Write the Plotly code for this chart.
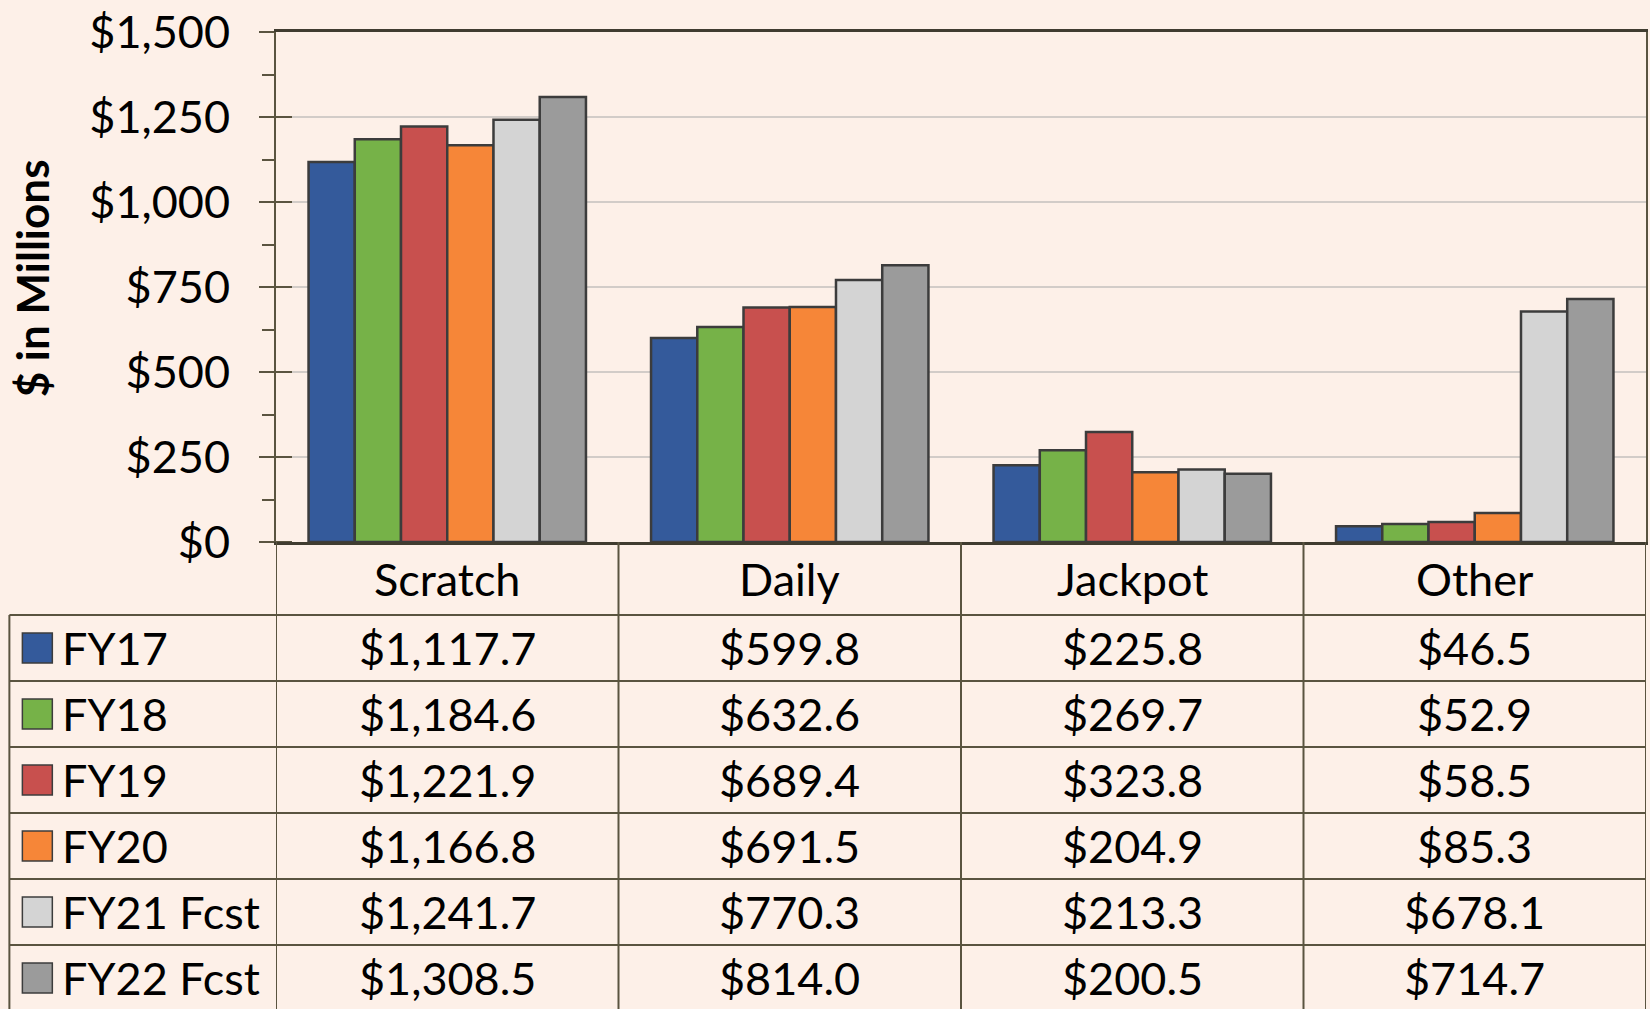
import plotly.graph_objects as go

categories = ["Scratch", "Daily", "Jackpot", "Other"]
series_names = ["FY17", "FY18", "FY19", "FY20", "FY21 Fcst", "FY22 Fcst"]
fy17 = [1117.7, 599.8, 225.8, 46.5]
fy18 = [1184.6, 632.6, 269.7, 52.9]
fy19 = [1221.9, 689.4, 323.8, 58.5]
fy20 = [1166.8, 691.5, 204.9, 85.3]
fy21 = [1241.7, 770.3, 213.3, 678.1]
fy22 = [1308.5, 814.0, 200.5, 714.7]
series_values = [fy17, fy18, fy19, fy20, fy21, fy22]
colors = ["#345A9B", "#76B248", "#C8504E", "#F68638", "#D4D4D4", "#9B9B9B"]
tick_values = [0, 250, 500, 750, 1000, 1250, 1500]

BG = "#FDF0E8"
LINE = "#5A5440"
FONT = "Lato"
W_FIG, H_FIG = 1650, 1009
L, R, T, B = 276, 1648, 32, 542
PW, PH = R - L, B - T


def fx(px):
    return (px - L) / PW


def fy(py):
    return (B - py) / PH


fig = go.Figure()
for name, vals, col in zip(series_names, series_values, colors):
    fig.add_trace(go.Bar(
        x=categories, y=vals, name=name,
        marker=dict(color=col, line=dict(color="#3C3C3C", width=2.5)),
        showlegend=False,
    ))

shapes = []
annotations = []

# inner part of major ticks
for tv in tick_values[:-1]:
    shapes.append(dict(type="line", xref="paper", yref="y", x0=0, x1=fx(L + 16),
                       y0=tv, y1=tv, line=dict(color=LINE, width=2)))

# table geometry
header_bottom = 615
row_h = 66
n_rows = len(series_names)
row_lines = [header_bottom + row_h * k for k in range(n_rows + 1)]
table_bottom = row_lines[-1]

for yl in row_lines:
    shapes.append(dict(type="line", xref="paper", yref="paper",
                       x0=fx(9), x1=fx(R), y0=fy(yl), y1=fy(yl),
                       line=dict(color=LINE, width=2)))
for k in range(len(categories) + 1):
    shapes.append(dict(type="line", xref="x", yref="paper",
                       x0=k - 0.5, x1=k - 0.5, y0=fy(B), y1=fy(table_bottom),
                       line=dict(color=LINE, width=2)))
shapes.append(dict(type="line", xref="paper", yref="paper",
                   x0=fx(9), x1=fx(9), y0=fy(header_bottom), y1=fy(table_bottom),
                   line=dict(color=LINE, width=2)))

for i, c in enumerate(categories):
    annotations.append(dict(x=i, xref="x", y=fy((B + header_bottom) / 2), yref="paper",
                            text=c, showarrow=False, xanchor="center", yanchor="middle",
                            font=dict(family=FONT, size=45, color="black")))

for r, (name, vals, col) in enumerate(zip(series_names, series_values, colors)):
    yc = header_bottom + row_h * r + row_h / 2
    shapes.append(dict(type="rect", xref="paper", yref="paper",
                       x0=fx(22), x1=fx(52), y0=fy(yc - 15), y1=fy(yc + 15),
                       fillcolor=col, line=dict(color="#3C3C3C", width=1.5)))
    annotations.append(dict(x=fx(60), xref="paper", y=fy(yc), yref="paper",
                            text=name, showarrow=False, xanchor="left", yanchor="middle",
                            font=dict(family=FONT, size=45, color="black")))
    for i, v in enumerate(vals):
        annotations.append(dict(x=i, xref="x", y=fy(yc), yref="paper",
                                text=f"${v:,.1f}", showarrow=False,
                                xanchor="center", yanchor="middle",
                                font=dict(family=FONT, size=45, color="black")))

annotations.append(dict(x=fx(32), xref="paper", y=fy(278), yref="paper",
                        text="<b>$ in Millions</b>", textangle=-90, showarrow=False,
                        xanchor="center", yanchor="middle",
                        font=dict(family=FONT, size=44, color="black")))

fig.update_layout(
    width=W_FIG, height=H_FIG, autosize=False,
    margin=dict(l=L, r=W_FIG - R, t=T, b=H_FIG - B, pad=0),
    paper_bgcolor=BG, plot_bgcolor=BG,
    barmode="group", bargap=0.19, bargroupgap=0,
    shapes=shapes, annotations=annotations,
    font=dict(family=FONT, size=45, color="black"),
)
fig.update_xaxes(type="category", range=[-0.5, 3.5], showticklabels=False,
                 showline=True, linecolor="#403C30", linewidth=2.5, mirror=True,
                 ticks="", showgrid=False, zeroline=False)
fig.update_yaxes(range=[0, 1500], tickvals=tick_values,
                 ticktext=[f"${v:,}" for v in tick_values],
                 showline=True, linecolor=LINE, linewidth=2, mirror=True,
                 ticks="outside", ticklen=15, tickwidth=2, tickcolor=LINE,
                 ticklabelstandoff=20,
                 minor=dict(dtick=125, ticks="outside", ticklen=12, tickwidth=2,
                            tickcolor=LINE, showgrid=False),
                 showgrid=True, gridcolor="#D2CCC8", gridwidth=1.5, zeroline=False,
                 tickfont=dict(family=FONT, size=45, color="black"))

fig.write_html("out.html", config={"displayModeBar": False},
               post_script="document.body.style.margin='0';document.body.style.overflow='hidden';")
